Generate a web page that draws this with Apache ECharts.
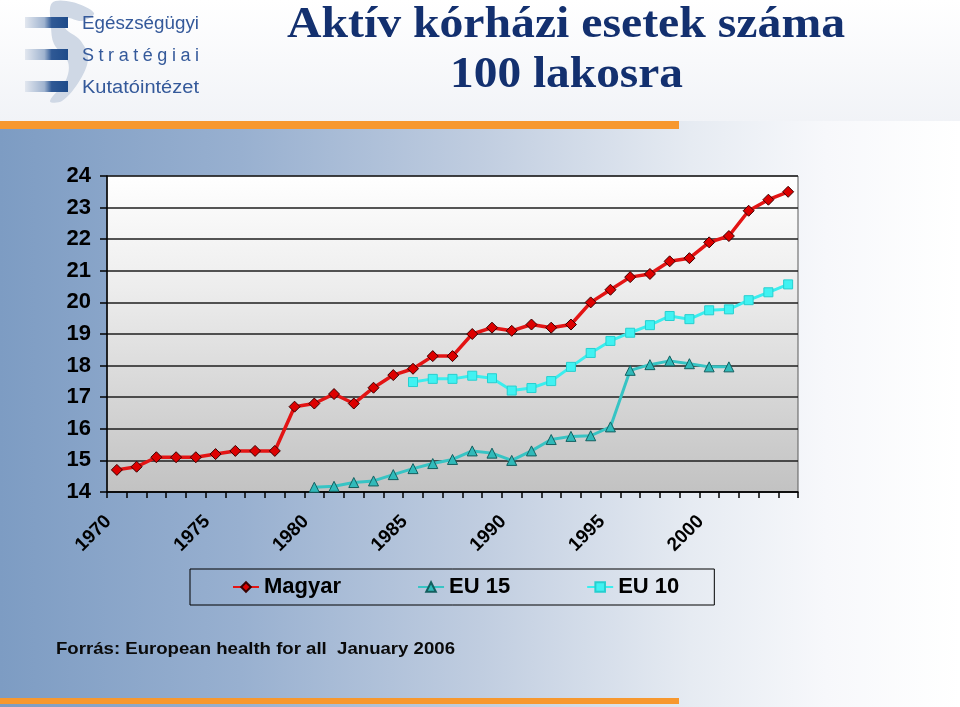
<!DOCTYPE html>
<html><head><meta charset="utf-8">
<script src="https://cdn.jsdelivr.net/npm/echarts@6/dist/echarts.min.js"></script>
<style>html,body{margin:0;padding:0;background:#fff}#c{width:960px;height:707px}</style>
</head><body><div id="c"></div>
<script>
// ---- data ----
const years = ['1970','1971','1972','1973','1974','1975','1976','1977','1978','1979',
  '1980','1981','1982','1983','1984','1985','1986','1987','1988','1989',
  '1990','1991','1992','1993','1994','1995','1996','1997','1998','1999',
  '2000','2001','2002','2003','2004'];
const magyar = [14.7,14.8,15.1,15.1,15.1,15.2,15.3,15.3,15.3,16.7,
  16.8,17.1,16.8,17.3,17.7,17.9,18.3,18.3,19.0,19.2,
  19.1,19.3,19.2,19.3,20.0,20.4,20.8,20.9,21.3,21.4,
  21.9,22.1,22.9,23.25,23.5];
const eu15 = [null,null,null,null,null,null,null,null,null,null,
  14.15,14.18,14.3,14.35,14.55,14.74,14.9,15.03,15.3,15.23,
  15.0,15.3,15.66,15.76,15.78,16.06,17.85,18.03,18.15,18.06,
  17.96,17.96,null,null,null];
const eu10 = [null,null,null,null,null,null,null,null,null,null,
  null,null,null,null,null,17.48,17.58,17.58,17.68,17.6,
  17.21,17.29,17.51,17.96,18.4,18.78,19.04,19.28,19.57,19.47,
  19.75,19.78,20.07,20.32,20.57];
const seriesNames = ['Magyar','EU 15','EU 10'];
const titleLines = ['Aktív kórházi esetek száma','100 lakosra'];
const sourceText = 'Forrás: European health for all  January 2006';
const logoLines = ['Egészségügyi','Stratégiai','Kutatóintézet'];

// ---- layout helpers ----
const cv = document.createElement('canvas').getContext('2d');
function tw(font, s){ cv.font = font; return cv.measureText(s).width; }

const titleFont = 'bold 44px "Liberation Serif"';
const srcFont = 'bold 16.5px "Liberation Sans"';
const logoFont = '18px "Liberation Sans"';

const graphics = [];
// slide background
graphics.push({type:'rect', z:-10, silent:true, shape:{x:0,y:0,width:960,height:707},
  style:{fill:new echarts.graphic.LinearGradient(0,0,1,0,[
    {offset:0,color:'#7d9cc3'},{offset:0.25,color:'#98b0d0'},{offset:0.5,color:'#c0cde0'},
    {offset:0.72,color:'#e6ebf2'},{offset:0.86,color:'#f7f8fb'},{offset:1,color:'#ffffff'}])}});
// header
graphics.push({type:'rect', z:-9, silent:true, shape:{x:0,y:0,width:960,height:121},
  style:{fill:new echarts.graphic.LinearGradient(0,0,0,1,[
    {offset:0,color:'#ffffff'},{offset:1,color:'#f1f3f7'}])}});
// orange bars
graphics.push({type:'rect', z:-8, silent:true, shape:{x:0,y:121,width:679,height:8}, style:{fill:'#f7982f'}});
graphics.push({type:'rect', z:-8, silent:true, shape:{x:0,y:698,width:679,height:6}, style:{fill:'#f7982f'}});
// logo swoosh
graphics.push({type:'polygon', z:-7, silent:true, shape:{smooth:0.35, points:[
  [52,3],[72,2],[94,13],[82,21],[66,18],[65,28],[80,40],[88,58],[80,80],[62,101],[50,101],[66,80],[68,62],[54,44],[51,26]]},
  style:{fill:'#cfd8e5'}});
// logo bars
[17,49,81].forEach(function(y){
  graphics.push({type:'rect', z:-6, silent:true, shape:{x:25,y:y,width:43,height:11},
    style:{fill:new echarts.graphic.LinearGradient(0,0,1,0,[
      {offset:0,color:'#e2e7ef'},{offset:0.45,color:'#9fb3cf'},{offset:0.62,color:'#2f5995'},{offset:1,color:'#1e4b8a'}])}});
});
// logo texts
[[logoLines[0],24,false],[logoLines[1],56,true],[logoLines[2],88,false]].forEach(function(it){
  const s = it[0], y = it[1];
  const target = 117;
  if (!it[2]) {
    const w = tw(logoFont, s);
    graphics.push({type:'text', x:82, y:y, scaleX: target/w, silent:true,
      style:{text:s, x:0, y:0, font:logoFont, fill:'#34599a', align:'left', verticalAlign:'middle'}});
  } else {
    const chars = s.split('');
    const ws = chars.map(function(c){return tw(logoFont,c);});
    const sum = ws.reduce(function(a,b){return a+b;},0);
    const gap = (target - sum)/(chars.length-1);
    let x = 82;
    chars.forEach(function(c,i){
      graphics.push({type:'text', x:x, y:y, silent:true,
        style:{text:c, x:0, y:0, font:logoFont, fill:'#34599a', align:'left', verticalAlign:'middle'}});
      x += ws[i] + gap;
    });
  }
});
// title
graphics.push({type:'text', x:566, y:26, scaleX: 558/tw(titleFont,titleLines[0]), silent:true,
  style:{text:titleLines[0], x:0, y:0, font:titleFont, fill:'#13306f', align:'center', verticalAlign:'middle'}});
graphics.push({type:'text', x:566.5, y:76, scaleX: 233/tw(titleFont,titleLines[1]), silent:true,
  style:{text:titleLines[1], x:0, y:0, font:titleFont, fill:'#13306f', align:'center', verticalAlign:'middle'}});
// source
graphics.push({type:'text', x:56, y:649, scaleX: 399/tw(srcFont,sourceText), silent:true,
  style:{text:sourceText, x:0, y:0, font:srcFont, fill:'#0a0a0a', align:'left', verticalAlign:'middle'}});

const chart = echarts.init(document.getElementById('c'), null, {renderer:'canvas'});
chart.setOption({
  animation:false,
  backgroundColor:'transparent',
  textStyle:{fontFamily:'"Liberation Sans", Arial, sans-serif'},
  graphic: graphics,
  grid:{left:107, right:162, top:176, bottom:215, show:true, borderColor:'#5a5a5a', borderWidth:1,
    backgroundColor:{type:'linear',x:0,y:0,x2:0,y2:1,colorStops:[
      {offset:0,color:'#ffffff'},{offset:0.35,color:'#ededed'},{offset:1,color:'#c2c2c2'}]}},
  legend:{left:190, top:569, orient:'horizontal', data:seriesNames, itemGap:76, itemWidth:26, itemHeight:12,
    padding:[7,35,7,42], borderColor:'#000', borderWidth:1, backgroundColor:'transparent',
    textStyle:{fontSize:22, fontWeight:'bold', color:'#000', fontFamily:'"Liberation Sans", Arial, sans-serif'}},
  xAxis:{type:'category', data:years, boundaryGap:true,
    axisLine:{show:true, lineStyle:{color:'#000', width:1.5}},
    axisTick:{show:true, interval:0, length:6, lineStyle:{color:'#000', width:1.5}},
    axisLabel:{interval:4, rotate:45, fontSize:19, fontWeight:'bold', color:'#000', margin:18, padding:[0,12,0,0]},
    splitLine:{show:false}},
  yAxis:{type:'value', min:14, max:24, interval:1,
    axisLine:{show:true, lineStyle:{color:'#000', width:1.5}},
    axisTick:{show:true, length:7, lineStyle:{color:'#000', width:1.5}},
    axisLabel:{fontSize:22, fontWeight:'bold', color:'#000', margin:16},
    splitLine:{show:true, lineStyle:{color:'#1e1e1e', width:1.5}}},
  series:[
    {name:seriesNames[0], type:'line', data:magyar, z:5, symbol:'diamond', symbolSize:11, showAllSymbol:true,
      lineStyle:{color:'#e31414', width:3.5}, itemStyle:{color:'#dd0000', borderColor:'#3a0000', borderWidth:1}},
    {name:seriesNames[1], type:'line', data:eu15, z:4, symbol:'triangle', symbolSize:10, showAllSymbol:true,
      lineStyle:{color:'#37c4c4', width:3}, itemStyle:{color:'#30baba', borderColor:'#135f5f', borderWidth:1}},
    {name:seriesNames[2], type:'line', data:eu10, z:4, symbol:'rect', symbolSize:9, showAllSymbol:true,
      lineStyle:{color:'#3aeeee', width:3}, itemStyle:{color:'#40f2f2', borderColor:'#26cfcf', borderWidth:1}}
  ]
});
</script></body></html>
